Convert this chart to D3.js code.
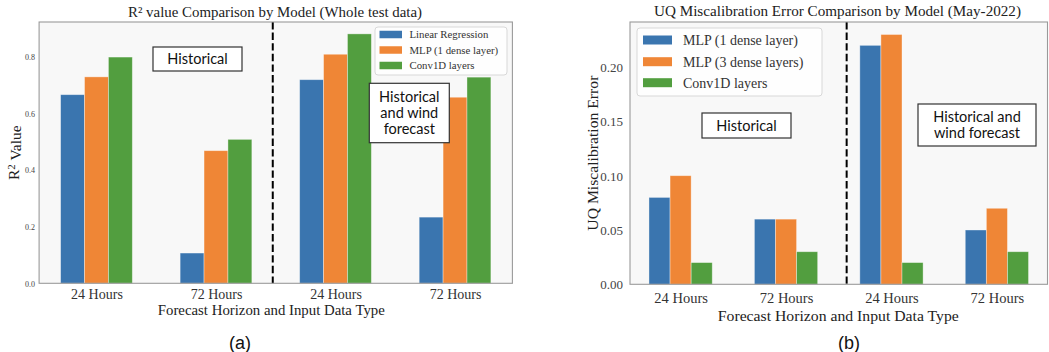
<!DOCTYPE html>
<html>
<head>
<meta charset="utf-8">
<script src="https://cdn.jsdelivr.net/npm/d3@7"></script>
<style>
  html, body { margin: 0; padding: 0; background: #ffffff; }
  svg { display: block; }
</style>
</head>
<body>
<svg id="chart" width="1049" height="352"></svg>
<script>
// ---------------- DATA ----------------
const categories = ["24 Hours", "72 Hours", "24 Hours", "72 Hours"];

// Panel (a): R² value
const r2SeriesNames = ["Linear Regression", "MLP (1 dense layer)", "Conv1D layers"];
const r2Linear = [0.667, 0.107, 0.720, 0.234];
const r2Mlp1 = [0.730, 0.469, 0.810, 0.658];
const r2Conv = [0.800, 0.509, 0.882, 0.729];
const r2Ticks = [0.0, 0.2, 0.4, 0.6, 0.8];
const r2TickLabels = ["0.0", "0.2", "0.4", "0.6", "0.8"];
const r2Max = 0.924;
const r2Divider = 1.475;

// Panel (b): UQ miscalibration error
const uqSeriesNames = ["MLP (1 dense layer)", "MLP (3 dense layers)", "Conv1D layers"];
const uqMlp1 = [0.08, 0.06, 0.22, 0.05];
const uqMlp3 = [0.10, 0.06, 0.23, 0.07];
const uqConv = [0.02, 0.03, 0.02, 0.03];
const uqTicks = [0.00, 0.05, 0.10, 0.15, 0.20];
const uqTickLabels = ["0.00", "0.05", "0.10", "0.15", "0.20"];
const uqMax = 0.2415;
const uqDivider = 1.575;

const colors = ["#3a75af", "#ef8636", "#529e3f"];

// ---------------- DRAW ----------------
const svg = d3.select("#chart");
const serif = "'Liberation Serif', 'DejaVu Serif', serif";
const sans = "Lato, 'Open Sans', sans-serif";

function drawPanel(cfg) {
  const g = svg.append("g");
  const x = d3.scaleLinear().domain([-0.48, 3.48]).range([cfg.left, cfg.right]);
  const y = d3.scaleLinear().domain([0, cfg.ymax]).range([cfg.bottom, cfg.top]);
  const barW = 0.2;

  // plot background
  g.append("rect")
    .attr("x", cfg.left).attr("y", cfg.top)
    .attr("width", cfg.right - cfg.left).attr("height", cfg.bottom - cfg.top)
    .attr("fill", "#f8f8f8");

  // bars
  cfg.series.forEach((vals, k) => {
    g.append("g").selectAll("rect")
      .data(vals)
      .join("rect")
      .attr("x", (d, i) => x(i + (k - 1) * barW - barW / 2))
      .attr("width", x(barW) - x(0))
      .attr("y", d => y(d))
      .attr("height", d => y(0) - y(d))
      .attr("fill", colors[k])
      .attr("stroke", "#ffffff")
      .attr("stroke-opacity", 0.45)
      .attr("stroke-width", 0.8);
  });

  // divider
  g.append("line")
    .attr("x1", x(cfg.divider)).attr("x2", x(cfg.divider))
    .attr("y1", cfg.top).attr("y2", cfg.bottom)
    .attr("stroke", "#000").attr("stroke-width", 2)
    .attr("stroke-dasharray", "7.4,3.2");

  // frame
  g.append("rect")
    .attr("x", cfg.left).attr("y", cfg.top)
    .attr("width", cfg.right - cfg.left).attr("height", cfg.bottom - cfg.top)
    .attr("fill", "none").attr("stroke", "#9a9a9a").attr("stroke-width", 1.1);

  // x axis
  const xAxis = d3.axisBottom(x)
    .tickValues(d3.range(categories.length))
    .tickFormat(i => categories[i])
    .tickSize(0).tickPadding(0);
  const xg = g.append("g").attr("transform", `translate(0,${cfg.bottom})`).call(xAxis);
  xg.select(".domain").remove();
  xg.selectAll("text")
    .attr("y", cfg.xTickY - cfg.bottom).attr("dy", "0.35em")
    .attr("font-family", serif).attr("font-size", cfg.xTickSize)
    .attr("fill", "#333");

  // y axis
  const yAxis = d3.axisLeft(y)
    .tickValues(cfg.yTicks)
    .tickFormat((d, i) => cfg.yTickLabels[i])
    .tickSize(0).tickPadding(0);
  const yg = g.append("g").attr("transform", `translate(${cfg.yTickX},0)`).call(yAxis);
  yg.select(".domain").remove();
  yg.selectAll("text")
    .attr("x", 0).attr("dy", "0.35em")
    .attr("font-family", serif).attr("font-size", cfg.yTickSize)
    .attr("fill", "#444");

  // title
  g.append("text")
    .attr("x", cfg.titleX).attr("y", cfg.titleY)
    .attr("text-anchor", "middle")
    .attr("font-family", serif).attr("font-size", 15)
    .attr("fill", "#222")
    .attr("textLength", cfg.titleLen).attr("lengthAdjust", "spacingAndGlyphs")
    .text(cfg.title);

  // x label
  g.append("text")
    .attr("x", cfg.xLabelX).attr("y", cfg.xLabelY)
    .attr("text-anchor", "middle")
    .attr("font-family", serif).attr("font-size", cfg.xLabelSize)
    .attr("fill", "#222")
    .attr("textLength", cfg.xLabelLen).attr("lengthAdjust", "spacingAndGlyphs")
    .text("Forecast Horizon and Input Data Type");

  // y label
  const yl = g.append("text")
    .attr("transform", `translate(${cfg.yLabelX},${(cfg.top + cfg.bottom) / 2}) rotate(-90)`)
    .attr("text-anchor", "middle")
    .attr("dy", "0.35em")
    .attr("font-family", serif).attr("font-size", cfg.yLabelSize)
    .attr("fill", "#222");
  if (cfg.yLabelLen) yl.attr("textLength", cfg.yLabelLen).attr("lengthAdjust", "spacingAndGlyphs");
  cfg.yLabelParts.forEach(p => {
    const t = yl.append("tspan").text(p.t);
    if (p.sup) t.attr("font-size", cfg.yLabelSize * 0.7).attr("dy", "-0.35em");
    if (p.after) t.attr("dy", "0.35em");
  });

  // legend
  const L = cfg.legend;
  const lg = g.append("g");
  lg.append("rect")
    .attr("x", L.x).attr("y", L.y).attr("width", L.w).attr("height", L.h)
    .attr("rx", 3).attr("fill", "#ffffff").attr("fill-opacity", 0.85)
    .attr("stroke", "#d8d8d8").attr("stroke-width", 1);
  cfg.names.forEach((n, k) => {
    const cy = L.rows[k];
    lg.append("rect")
      .attr("x", L.sx).attr("y", cy - L.sh / 2)
      .attr("width", L.sw).attr("height", L.sh)
      .attr("fill", colors[k]);
    lg.append("text")
      .attr("x", L.tx).attr("y", cy).attr("dy", "0.35em")
      .attr("font-family", serif).attr("font-size", L.fs)
      .attr("fill", "#333")
      .text(n);
  });

  // annotation boxes
  cfg.notes.forEach(nb => {
    g.append("rect")
      .attr("x", nb.x).attr("y", nb.y).attr("width", nb.w).attr("height", nb.h)
      .attr("fill", "#ffffff").attr("stroke", "#333").attr("stroke-width", 1.2);
    nb.lines.forEach((ln, j) => {
      g.append("text")
        .attr("x", nb.x + nb.w / 2).attr("y", nb.ly[j]).attr("dy", "0.35em")
        .attr("text-anchor", "middle")
        .attr("font-family", sans).attr("font-size", 14.5)
        .attr("fill", "#111")
        .text(ln);
    });
  });

  // panel letter
  g.append("text")
    .attr("x", cfg.letterX).attr("y", 349)
    .attr("text-anchor", "middle")
    .attr("font-family", "'Liberation Sans', Arial, sans-serif").attr("font-size", 18)
    .attr("fill", "#111")
    .text(cfg.letter);
}

drawPanel({
  left: 39.1, right: 512.4, top: 22, bottom: 283.3, ymax: r2Max,
  series: [r2Linear, r2Mlp1, r2Conv], names: r2SeriesNames,
  divider: r2Divider,
  yTicks: r2Ticks, yTickLabels: r2TickLabels, yTickX: 35, yTickSize: 8,
  xTickY: 294, xTickSize: 14,
  title: "R² value Comparison by Model (Whole test data)", titleX: 275, titleY: 16.5, titleLen: 294,
  xLabelX: 271.3, xLabelY: 315, xLabelSize: 14, xLabelLen: 227,
  yLabelX: 13.5, yLabelSize: 15.5,
  yLabelParts: [{t: "R"}, {t: "2", sup: true}, {t: " Value", after: true}],
  legend: {x: 375, y: 27, w: 132, h: 48, sx: 379.5, sw: 22.5, sh: 7.5, tx: 409.5, fs: 10.8, rows: [34.5, 50, 65.5]},
  notes: [
    {x: 153, y: 47, w: 89, h: 24, lines: ["Historical"], ly: [59]},
    {x: 369.3, y: 83.3, w: 80, h: 59.4, lines: ["Historical", "and wind", "forecast"], ly: [96.7, 112.8, 129]}
  ],
  letter: "(a)", letterX: 240
});

drawPanel({
  left: 630, right: 1047.5, top: 22, bottom: 284.3, ymax: uqMax,
  series: [uqMlp1, uqMlp3, uqConv], names: uqSeriesNames,
  divider: uqDivider,
  yTicks: uqTicks, yTickLabels: uqTickLabels, yTickX: 623, yTickSize: 13,
  xTickY: 297.7, xTickSize: 14.5,
  title: "UQ Miscalibration Error Comparison by Model (May-2022)", titleX: 837.5, titleY: 15.5, titleLen: 367,
  xLabelX: 838.3, xLabelY: 320.5, xLabelSize: 15, xLabelLen: 241,
  yLabelX: 593, yLabelSize: 15, yLabelLen: 155,
  yLabelParts: [{t: "UQ Miscalibration Error"}],
  legend: {x: 637, y: 28, w: 185, h: 68, sx: 643, sw: 29, sh: 9, tx: 683, fs: 14, rows: [40, 61.7, 82.7]},
  notes: [
    {x: 702, y: 113, w: 89, h: 25, lines: ["Historical"], ly: [125.5]},
    {x: 918, y: 104, w: 118, h: 42, lines: ["Historical and", "wind forecast"], ly: [116.7, 133.3]}
  ],
  letter: "(b)", letterX: 849
});
</script>
</body>
</html>
